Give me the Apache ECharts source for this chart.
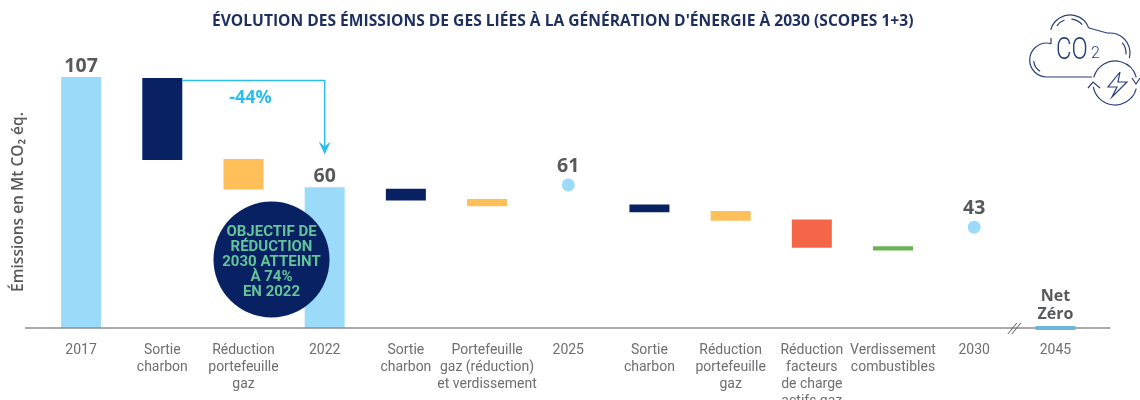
<!DOCTYPE html>
<html>
<head>
<meta charset="utf-8">
<style>
  html, body { margin: 0; background: #fff; }
  #main { width: 1140px; height: 400px; }
</style>
</head>
<body>
<div id="main"></div>
<script src="https://cdn.jsdelivr.net/npm/echarts@6/dist/echarts.min.js"></script>
<script>
var categories = [
  '2017', 'Sortie\ncharbon', 'Réduction\nportefeuille\ngaz', '2022', 'Sortie\ncharbon',
  'Portefeuille\ngaz (réduction)\net verdissement', '2025', 'Sortie\ncharbon',
  'Réduction\nportefeuille\ngaz', 'Réduction\nfacteurs\nde charge\nactifs gaz',
  'Verdissement\ncombustibles', '2030', '2045'
]
var totalValues = [107, null, null, 60, null, null, null, null, null, null, null, null, null]
var dotValues = [null, null, null, null, null, null, 61, null, null, null, null, 43, null]
var stepHigh = [null, 106.6, 72, null, 59.4, 55, null, 52.6, 49.9, 46.3, 34.8, null, null]
var stepLow = [null, 71.6, 59, null, 54.4, 51.9, null, 49.3, 45.7, 34.2, 33, null, null]
var stepKinds = [null, 'coal', 'gas', null, 'coal', 'gas', null, 'coal', 'gas', 'load', 'fuel', null, null]
var netZeroRange = [-0.8, 0.8]
var arrowRange = [105.5, 74]
var bubbleLines = ['OBJECTIF DE', 'RÉDUCTION', '2030 ATTEINT', 'À 74%', 'EN 2022']

var chartTitle = "ÉVOLUTION DES ÉMISSIONS DE GES LIÉES À LA GÉNÉRATION D'ÉNERGIE À 2030 (SCOPES 1+3)"
var yTitle = 'Émissions en Mt CO₂ éq.'

var kindColors = { coal: '#072163', gas: '#ffc05a', load: '#f56648', fuel: '#6ab255' }
var barWidth = 40
var grey = '#58595b'
var arrowBlue = '#29bdf0'
var iconBlue = '#2b3f78'

var stepData = []
categories.forEach(function (c, i) {
  if (stepHigh[i] !== null) stepData.push([i, stepLow[i], stepHigh[i], stepKinds[i]])
})

function renderStep (params, api) {
  var a = api.coord([api.value(0), api.value(2)])
  var b = api.coord([api.value(0), api.value(1)])
  return {
    type: 'rect',
    shape: { x: a[0] - barWidth / 2, y: a[1], width: barWidth, height: b[1] - a[1] },
    style: { fill: kindColors[stepData[params.dataIndex][3]] }
  }
}

function renderNetZero (params, api) {
  var a = api.coord([12, netZeroRange[1]])
  var b = api.coord([12, netZeroRange[0]])
  return {
    type: 'group',
    children: [
      { type: 'rect', shape: { x: a[0] - barWidth / 2, y: a[1], width: barWidth, height: b[1] - a[1] }, style: { fill: '#6cb6dc' } },
      { type: 'text', style: { x: a[0], y: a[1] - 3, text: 'Net\nZéro', align: 'center', verticalAlign: 'bottom', fill: grey, font: 'bold 16px "Open Sans"', lineHeight: 18 } }
    ]
  }
}

// baseline, axis break and the -44% arrow
function renderNotes (params, api) {
  var zero = api.coord([0, 0])
  var first = zero[0]
  var last = api.coord([12, 0])[0]
  var breakX = (api.coord([11, 0])[0] + last) / 2
  var y = zero[1]
  var start = api.coord([1, arrowRange[0]])
  var end = api.coord([3, arrowRange[1]])
  var x0 = start[0] + barWidth / 2
  var lineStyle = { stroke: arrowBlue, lineWidth: 1.5, fill: null }
  return {
    type: 'group',
    children: [
      { type: 'line', shape: { x1: first - 56, y1: y, x2: last + 55, y2: y }, style: { stroke: '#8c8c8c', lineWidth: 1.5 } },
      { type: 'line', shape: { x1: breakX - 7, y1: y + 6, x2: breakX + 2, y2: y - 5 }, style: { stroke: grey, lineWidth: 1 } },
      { type: 'line', shape: { x1: breakX - 3, y1: y + 6, x2: breakX + 6, y2: y - 5 }, style: { stroke: grey, lineWidth: 1 } },
      { type: 'polyline', shape: { points: [[x0, start[1]], [end[0], start[1]], [end[0], end[1] - 6]] }, style: lineStyle },
      { type: 'polygon', shape: { points: [[end[0] - 6, end[1] - 13], [end[0], end[1] - 8], [end[0] + 6, end[1] - 13], [end[0], end[1]]] }, style: { fill: arrowBlue } },
      { type: 'text', style: { x: (x0 + end[0]) / 2 - 3, y: start[1] + 17, text: '-44%', align: 'center', verticalAlign: 'middle', fill: arrowBlue, font: 'bold 18px "Open Sans"' } }
    ]
  }
}

function renderBubble () {
  return {
    type: 'group',
    children: [
      { type: 'circle', shape: { cx: 271.5, cy: 259.5, r: 58 }, style: { fill: '#072163' } },
      {
        type: 'text',
        style: {
          x: 271.5,
          y: 262,
          text: bubbleLines.join('\n'),
          align: 'center',
          verticalAlign: 'middle',
          fill: '#65c39a',
          font: 'bold 15px Roboto',
          lineHeight: 15
        }
      }
    ]
  }
}

function arc (cx, cy, r, from, to) {
  return {
    type: 'arc',
    shape: { cx: cx, cy: cy, r: r, startAngle: from * Math.PI / 180, endAngle: to * Math.PI / 180, clockwise: true },
    style: { stroke: iconBlue, lineWidth: 1.2, fill: null }
  }
}

function poly (points) {
  return { type: 'polyline', shape: { points: points }, style: { stroke: iconBlue, lineWidth: 1.2, fill: null } }
}

var iconElements = [
  arc(1046.7, 60, 17, 90, 285),
  arc(1070, 35, 20, 195, 340),
  arc(1110, 53, 20, 262, 375),
  arc(1046.7, 60, 13, 120, 175),
  arc(1070, 35, 16, 215, 250),
  arc(1070, 35, 16, 275, 320),
  arc(1110, 53, 16, 320, 365),
  arc(1115, 83, 22, 195, 345),
  arc(1115, 83, 22, 15, 170),
  poly([[1046.7, 77], [1092, 77]]),
  poly([[1051, 44], [1051, 38]]),
  poly([[1089, 28], [1107, 33]]),
  poly([[1088, 88], [1093, 82], [1100, 88]]),
  poly([[1132, 78], [1136, 84], [1140, 78]]),
  poly([[1120, 72], [1108, 87], [1117, 87], [1112, 97], [1127, 82], [1118, 82], [1120, 72]]),
  { type: 'text', x: 1056, y: 35, scaleX: 0.75, style: { text: 'CO', fill: iconBlue, font: '300 32px Roboto', verticalAlign: 'top' } },
  { type: 'text', x: 1091, y: 46, style: { text: '2', fill: iconBlue, font: '300 16px Roboto', verticalAlign: 'top' } }
]

var chart = echarts.init(document.getElementById('main'), null, { renderer: 'canvas' })

chart.setOption({
  animation: false,
  backgroundColor: '#fff',
  title: {
    text: chartTitle,
    left: 207,
    top: 9,
    textStyle: { fontFamily: 'Open Sans', fontWeight: 'bold', fontSize: 15.6, color: '#1d2f5f' }
  },
  grid: { left: 40.5, right: 44, top: 46.5, bottom: 72, outerBoundsMode: 'none' },
  xAxis: {
    type: 'category',
    data: categories,
    axisLine: { show: false },
    axisTick: { show: false },
    axisLabel: {
      interval: 0,
      margin: 14,
      color: '#6d6e71',
      fontFamily: 'Roboto',
      fontSize: 14,
      lineHeight: 17
    }
  },
  yAxis: { type: 'value', min: 0, max: 120, show: false },
  graphic: [
    {
      type: 'text',
      x: 19,
      y: 202,
      rotation: Math.PI / 2,
      style: { text: yTitle, align: 'center', verticalAlign: 'middle', fill: grey, font: '600 15.5px "Open Sans"' }
    },
    { type: 'group', children: iconElements }
  ],
  series: [
    {
      type: 'bar',
      data: totalValues,
      barWidth: barWidth,
      itemStyle: { color: '#9bdbf9' },
      label: { show: true, position: 'top', distance: 1, color: grey, fontFamily: 'Open Sans', fontWeight: 'bold', fontSize: 19.5 }
    },
    { type: 'custom', data: stepData, renderItem: renderStep, encode: { x: 0, y: [1, 2] } },
    {
      type: 'scatter',
      data: dotValues,
      symbolSize: 13,
      itemStyle: { color: '#9bdbf9', opacity: 1 },
      label: { show: true, position: 'top', distance: 2, color: grey, fontFamily: 'Open Sans', fontWeight: 'bold', fontSize: 19.5 }
    },
    { type: 'custom', data: [[0]], renderItem: renderNotes, silent: true, z: 3 },
    { type: 'custom', data: [[12]], renderItem: renderNetZero, silent: true, z: 4 },
    { type: 'custom', data: [[0]], renderItem: renderBubble, silent: true, z: 5 }
  ]
})
</script>
</body>
</html>
